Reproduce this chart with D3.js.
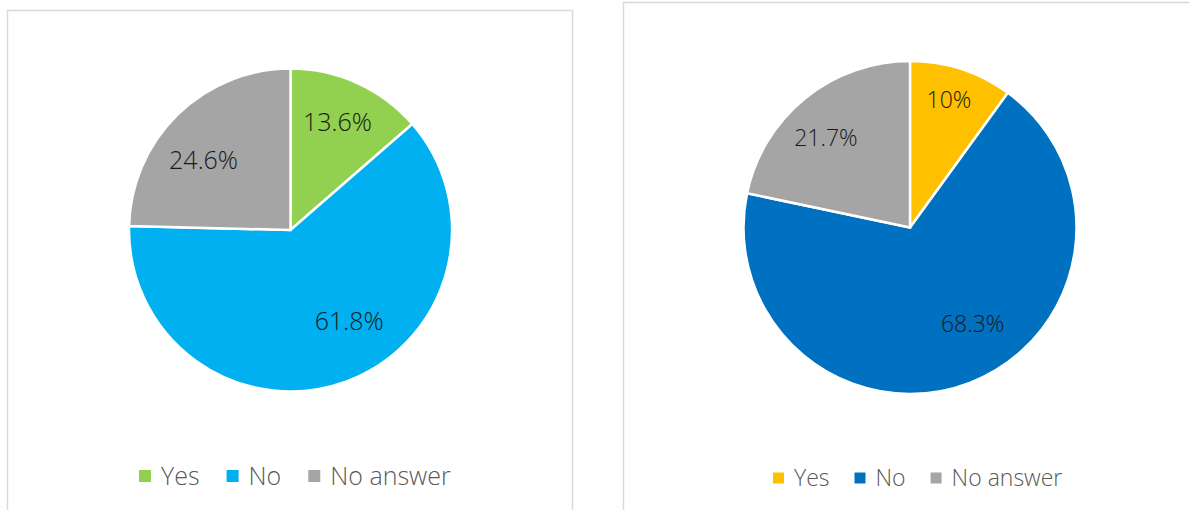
<!DOCTYPE html>
<html>
<head>
<meta charset="utf-8">
<script src="https://cdn.jsdelivr.net/npm/d3@7"></script>
<style>
  html, body { margin: 0; padding: 0; background: #fff; }
  svg { display: block; }
  text { font-family: "Open Sans", "Noto Sans", sans-serif; }
</style>
</head>
<body>
<svg id="chart" width="1189" height="510"></svg>
<script>
// Survey answers, two groups
const categories = ["Yes", "No", "No answer"];
const leftValues = [13.6, 61.8, 24.6];
const rightValues = [10, 68.3, 21.7];
const leftColors = ["#92D050", "#00B0F0", "#A5A5A5"];
const rightColors = ["#FFC000", "#0070C0", "#A5A5A5"];

const svg = d3.select("#chart");

const panels = [
  {
    values: leftValues, colors: leftColors,
    frame: { x: 7.5, y: 10.5, w: 565, h: 520 },
    cx: 290.5, cy: 230, r: 161.5,
    labelSize: 25,
    // label nudges (angle shift in degrees, radius fraction)
    labelPlace: [[-1, 0.73], [-13, 0.67], [-7, 0.69]],
    legend: { y: 476, size: 25, box: 12, startX: 139, gap: 27 }
  },
  {
    values: rightValues, colors: rightColors,
    frame: { x: 623.5, y: 2.5, w: 600, h: 520 },
    cx: 910, cy: 227.5, r: 166.5,
    labelSize: 23,
    labelPlace: [[-1, 0.8], [-12, 0.69], [-4, 0.74]],
    legend: { y: 478, size: 23, box: 11, startX: 773, gap: 25 }
  }
];

panels.forEach(p => {
  // chart frame
  svg.append("rect")
    .attr("x", p.frame.x).attr("y", p.frame.y)
    .attr("width", p.frame.w).attr("height", p.frame.h)
    .attr("fill", "none").attr("stroke", "#D9D9D9").attr("stroke-width", 1.5);

  const pie = d3.pie().sort(null).value(d => d);
  const arcs = pie(p.values);
  const arc = d3.arc().innerRadius(0).outerRadius(p.r);

  const g = svg.append("g").attr("transform", `translate(${p.cx},${p.cy})`);

  g.selectAll("path.slice")
    .data(arcs)
    .join("path")
    .attr("class", "slice")
    .attr("d", arc)
    .attr("fill", (d, i) => p.colors[i])
    .attr("stroke", "#fff")
    .attr("stroke-width", 2.5)
    .attr("stroke-linejoin", "miter");

  // data labels
  g.selectAll("text.lbl")
    .data(arcs)
    .join("text")
    .attr("class", "lbl")
    .attr("transform", (d, i) => {
      const [shift, frac] = p.labelPlace[i];
      const a = (d.startAngle + d.endAngle) / 2 + shift * Math.PI / 180;
      const rr = p.r * frac;
      return `translate(${rr * Math.sin(a)},${-rr * Math.cos(a)})`;
    })
    .attr("text-anchor", "middle")
    .attr("dy", "0.36em")
    .attr("font-size", p.labelSize)
    .attr("font-weight", 350)
    .attr("fill", "#1a1a1a")
    .text(d => d.data + "%");

  // legend
  const L = p.legend;
  const lg = svg.append("g");
  let x = L.startX;
  categories.forEach((c, i) => {
    lg.append("rect")
      .attr("x", x).attr("y", L.y - L.box / 2)
      .attr("width", L.box).attr("height", L.box)
      .attr("fill", p.colors[i]);
    const t = lg.append("text")
      .attr("x", x + L.box + 10)
      .attr("y", L.y)
      .attr("dy", "0.35em")
      .attr("font-size", L.size)
      .attr("font-weight", 350)
      .attr("fill", "#595959")
      .text(c);
    x += L.box + 10 + t.node().getComputedTextLength() + L.gap;
  });
});
</script>
</body>
</html>
